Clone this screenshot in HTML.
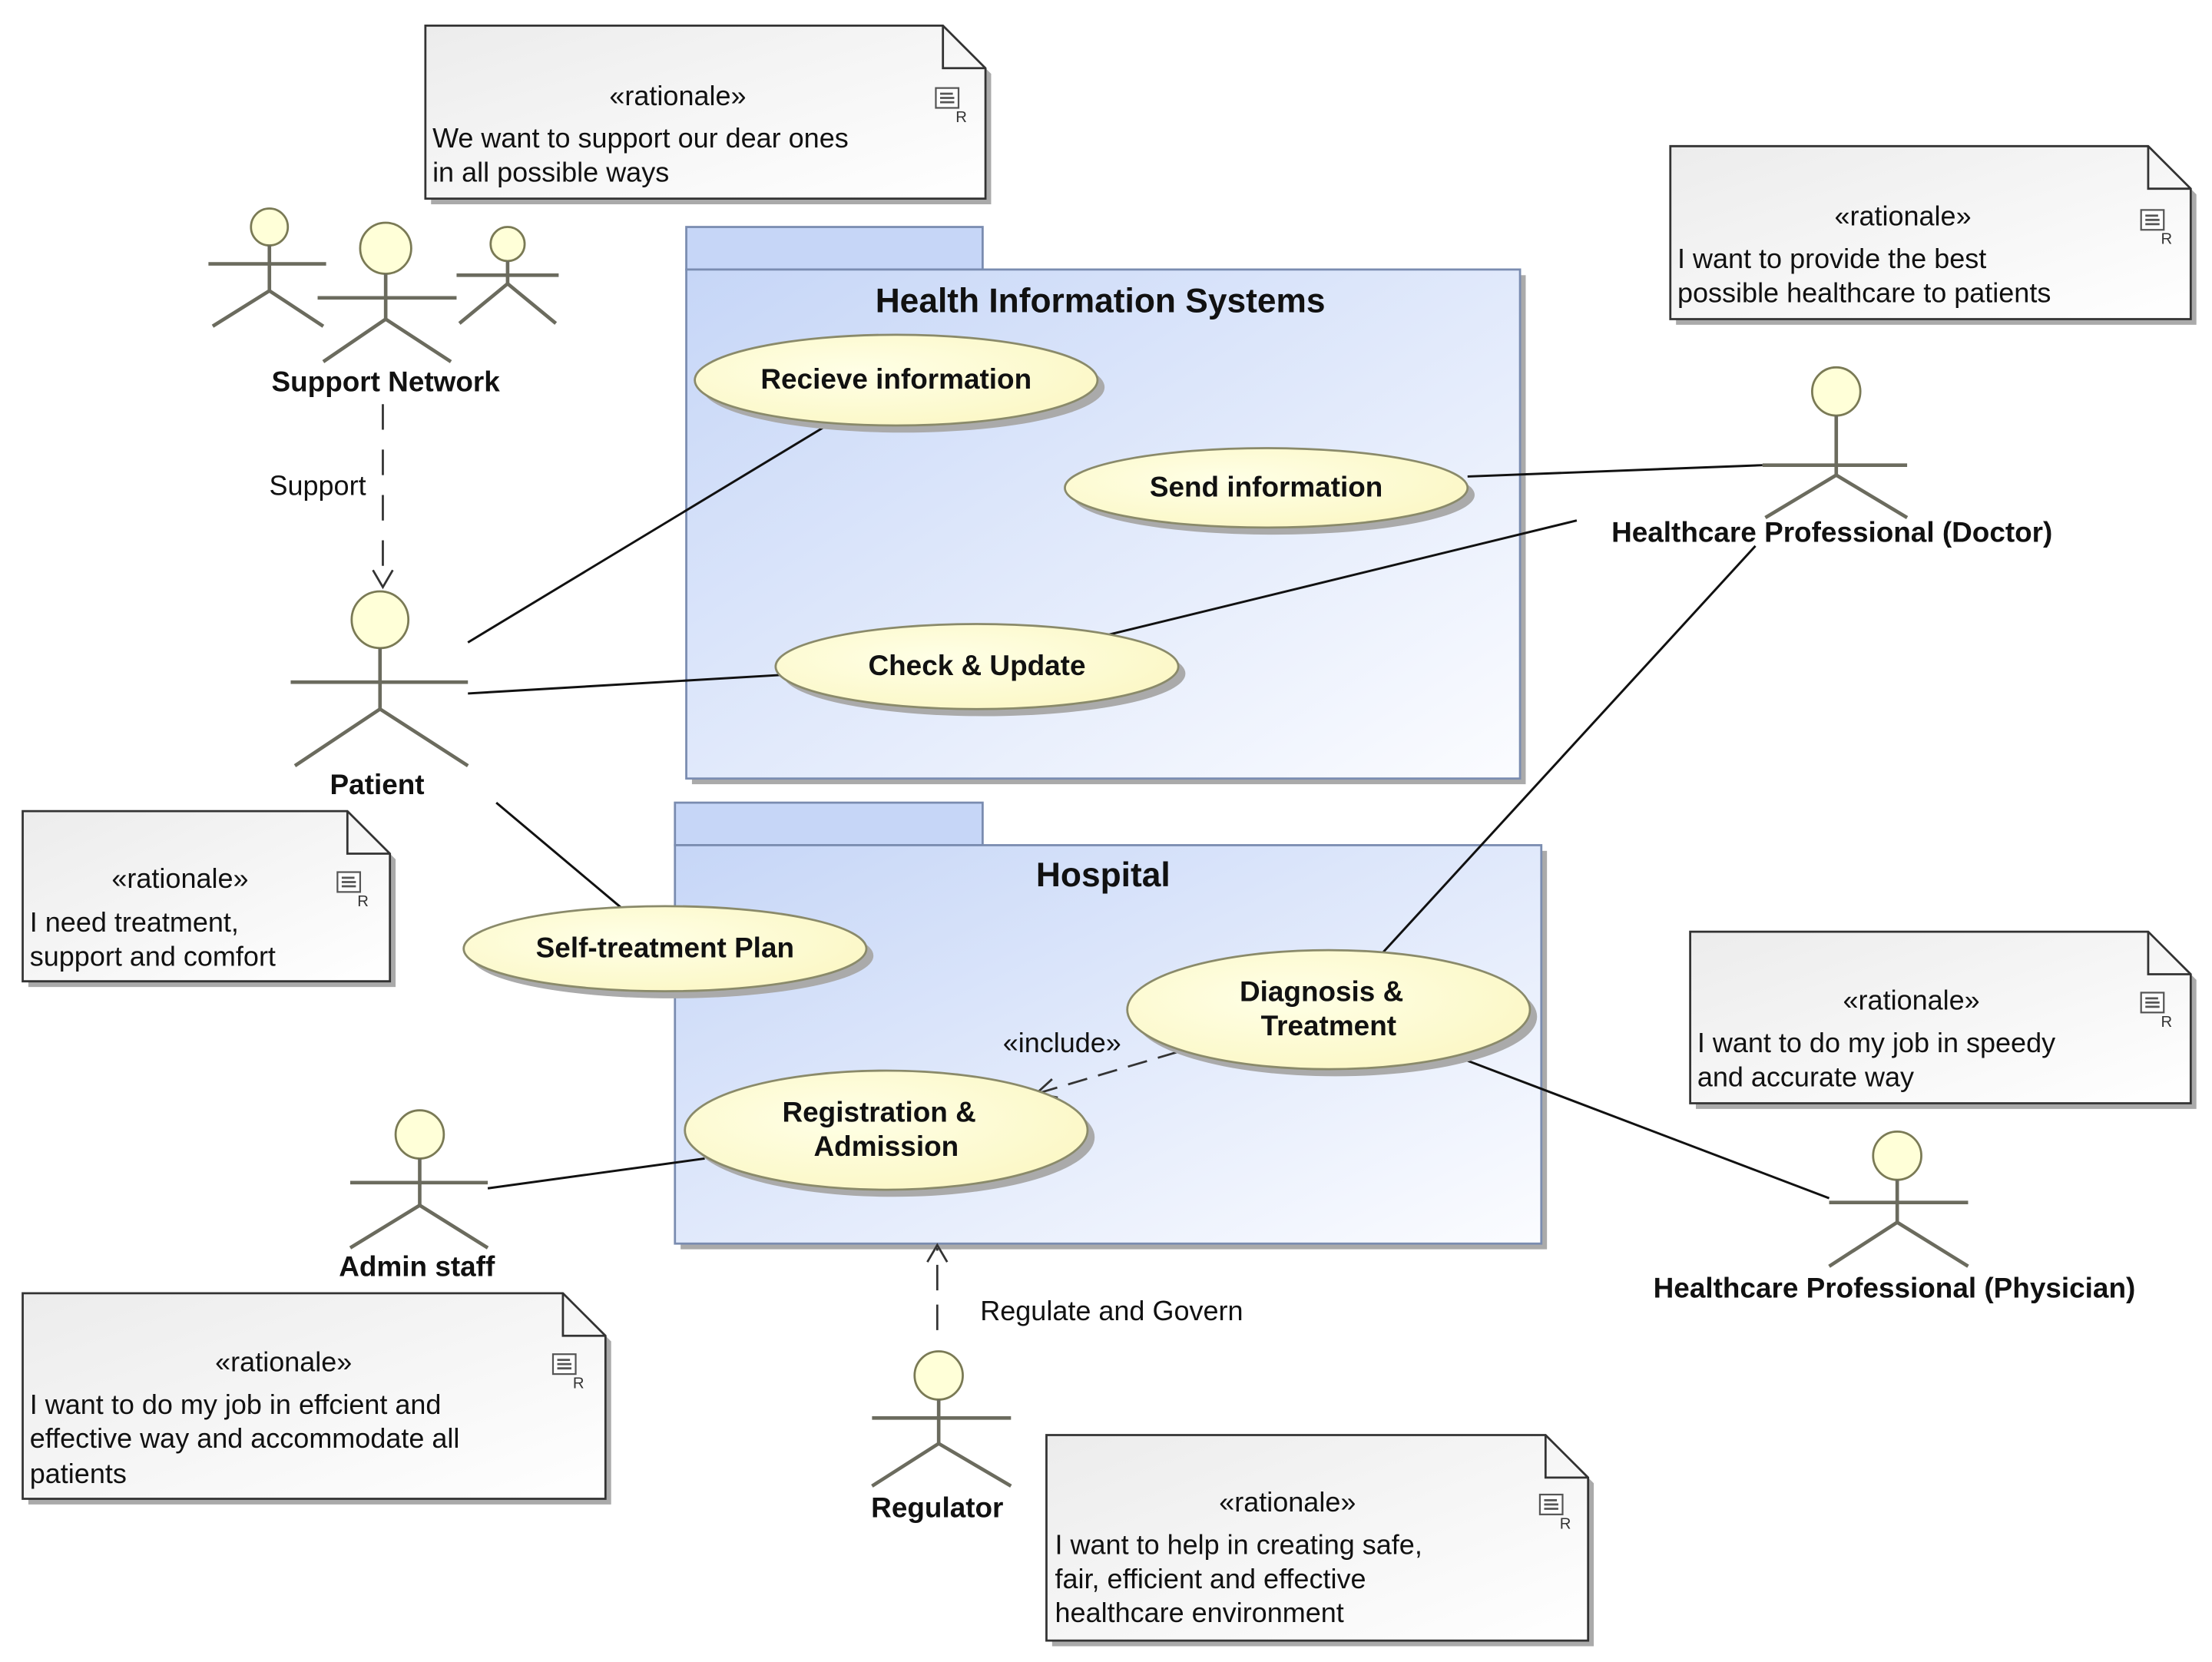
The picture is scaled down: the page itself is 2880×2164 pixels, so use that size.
<!DOCTYPE html>
<html><head><meta charset="utf-8"><style>html,body{margin:0;padding:0;background:#fff}svg{display:block}</style></head>
<body>
<svg width="2880" height="2164" viewBox="0 0 1560 1172" xmlns="http://www.w3.org/2000/svg" font-family="Liberation Sans, sans-serif">
<defs>
<linearGradient id="pk" x1="0" y1="0" x2="1" y2="1"><stop offset="0" stop-color="#c6d6f7"/><stop offset="1" stop-color="#fbfcff"/></linearGradient>
<linearGradient id="nt" x1="0" y1="0" x2="1" y2="1"><stop offset="0" stop-color="#ececec"/><stop offset="1" stop-color="#ffffff"/></linearGradient>
<radialGradient id="uc" cx="0.4" cy="0.4" r="0.7"><stop offset="0" stop-color="#ffffe6"/><stop offset="1" stop-color="#fbf7c4"/></radialGradient>
<g id="icon"><rect x="0" y="0" width="16" height="14" fill="#fff" stroke="#555" stroke-width="1.2"/><line x1="3" y1="4" x2="12" y2="4" stroke="#555" stroke-width="1.5"/><line x1="3" y1="7" x2="13" y2="7" stroke="#555" stroke-width="1.5"/><line x1="3" y1="10" x2="13" y2="10" stroke="#555" stroke-width="1.5"/><text x="14" y="24" font-size="11" fill="#333">R</text></g>
</defs>

<!-- Packages -->
<g stroke="#7a8cb0" stroke-width="1.5">
<rect x="488" y="194" width="588" height="359" fill="#aaa" stroke="none"/>
<rect x="484" y="160" width="209" height="30" fill="#c6d6f7"/>
<rect x="484" y="190" width="588" height="359" fill="url(#pk)"/>
<rect x="480" y="600" width="611" height="281" fill="#aaa" stroke="none"/>
<rect x="476" y="566" width="217" height="30" fill="#c6d6f7"/>
<rect x="476" y="596" width="611" height="281" fill="url(#pk)"/>
</g>
<text x="776" y="220" font-size="24" font-weight="bold" text-anchor="middle" fill="#111">Health Information Systems</text>
<text x="778" y="625" font-size="24" font-weight="bold" text-anchor="middle" fill="#111">Hospital</text>

<!-- Notes -->
<g stroke="#333" stroke-width="1.5">
<path d="M304,22 H669 L699,52 V144 H304 Z" fill="#aaa" stroke="none"/>
<path d="M300,18 H665 L695,48 V140 H300 Z" fill="url(#nt)"/><path d="M665,18 V48 H695" fill="none"/>
<path d="M1182,107 H1519 L1549,137 V229 H1182 Z" fill="#aaa" stroke="none"/>
<path d="M1178,103 H1515 L1545,133 V225 H1178 Z" fill="url(#nt)"/><path d="M1515,103 V133 H1545" fill="none"/>
<path d="M20,576 H249 L279,606 V696 H20 Z" fill="#aaa" stroke="none"/>
<path d="M16,572 H245 L275,602 V692 H16 Z" fill="url(#nt)"/><path d="M245,572 V602 H275" fill="none"/>
<path d="M1196,661 H1519 L1549,691 V782 H1196 Z" fill="#aaa" stroke="none"/>
<path d="M1192,657 H1515 L1545,687 V778 H1192 Z" fill="url(#nt)"/><path d="M1515,657 V687 H1545" fill="none"/>
<path d="M20,916 H401 L431,946 V1061 H20 Z" fill="#aaa" stroke="none"/>
<path d="M16,912 H397 L427,942 V1057 H16 Z" fill="url(#nt)"/><path d="M397,912 V942 H427" fill="none"/>
<path d="M742,1016 H1094 L1124,1046 V1161 H742 Z" fill="#aaa" stroke="none"/>
<path d="M738,1012 H1090 L1120,1042 V1157 H738 Z" fill="url(#nt)"/><path d="M1090,1012 V1042 H1120" fill="none"/>
</g>
<use href="#icon" x="660" y="62"/><use href="#icon" x="1510" y="148"/><use href="#icon" x="238" y="615"/>
<use href="#icon" x="1510" y="700"/><use href="#icon" x="390" y="955"/><use href="#icon" x="1086" y="1054"/>
<g font-size="19.5" fill="#111">
<text x="478" y="74" text-anchor="middle">«rationale»</text>
<text x="305" y="104">We want to support our dear ones</text><text x="305" y="128">in all possible ways</text>
<text x="1342" y="159" text-anchor="middle">«rationale»</text>
<text x="1183" y="189">I want to provide the best</text><text x="1183" y="213">possible healthcare to patients</text>
<text x="127" y="626" text-anchor="middle">«rationale»</text>
<text x="21" y="657">I need treatment,</text><text x="21" y="681">support and comfort</text>
<text x="1348" y="712" text-anchor="middle">«rationale»</text>
<text x="1197" y="742">I want to do my job in speedy</text><text x="1197" y="766">and accurate way</text>
<text x="200" y="967" text-anchor="middle">«rationale»</text>
<text x="21" y="997">I want to do my job in effcient and</text><text x="21" y="1021">effective way and accommodate all</text><text x="21" y="1046">patients</text>
<text x="908" y="1066" text-anchor="middle">«rationale»</text>
<text x="744" y="1096">I want to help in creating safe,</text><text x="744" y="1120">fair, efficient and effective</text><text x="744" y="1144">healthcare environment</text>
</g>

<!-- Connectors -->
<g stroke="#111" stroke-width="1.6" fill="none">
<line x1="330" y1="453" x2="583" y2="300"/>
<line x1="330" y1="489" x2="550" y2="476"/>
<line x1="350" y1="566" x2="438" y2="640"/>
<line x1="1035" y1="336" x2="1243" y2="328"/>
<line x1="780" y1="448" x2="1112" y2="367"/>
<line x1="975" y1="672" x2="1238" y2="385"/>
<line x1="1027" y1="745" x2="1290" y2="845"/>
<line x1="344" y1="838" x2="497" y2="817"/>
</g>
<g stroke="#333" stroke-width="1.5" fill="none">
<line x1="830" y1="742" x2="732" y2="771" stroke-dasharray="14,8"/>
<path d="M742,761 L731,771 L746,774"/>
<line x1="270" y1="285" x2="270" y2="413" stroke-dasharray="18,14"/>
<path d="M263,402 L270,414 L277,402"/>
<line x1="661" y1="938" x2="661" y2="880" stroke-dasharray="18,10"/>
<path d="M654,890 L661,878 L668,890"/>
</g>
<g font-size="19.5" fill="#111">
<text x="749" y="742" text-anchor="middle">«include»</text>
<text x="224" y="349" text-anchor="middle">Support</text>
<text x="784" y="931" text-anchor="middle">Regulate and Govern</text>
</g>

<!-- Use cases -->
<g stroke="#8a8a6a" stroke-width="1.5">
<ellipse cx="637" cy="273" rx="142" ry="32" fill="#aaa" stroke="none"/><ellipse cx="632" cy="268" rx="142" ry="32" fill="url(#uc)"/>
<ellipse cx="898" cy="349" rx="142" ry="28" fill="#aaa" stroke="none"/><ellipse cx="893" cy="344" rx="142" ry="28" fill="url(#uc)"/>
<ellipse cx="694" cy="475" rx="142" ry="30" fill="#aaa" stroke="none"/><ellipse cx="689" cy="470" rx="142" ry="30" fill="url(#uc)"/>
<ellipse cx="474" cy="674" rx="142" ry="30" fill="#aaa" stroke="none"/><ellipse cx="469" cy="669" rx="142" ry="30" fill="url(#uc)"/>
<ellipse cx="942" cy="717" rx="142" ry="42" fill="#aaa" stroke="none"/><ellipse cx="937" cy="712" rx="142" ry="42" fill="url(#uc)"/>
<ellipse cx="630" cy="802" rx="142" ry="42" fill="#aaa" stroke="none"/><ellipse cx="625" cy="797" rx="142" ry="42" fill="url(#uc)"/>
</g>
<g font-size="20" font-weight="bold" fill="#111" text-anchor="middle">
<text x="632" y="274">Recieve information</text>
<text x="893" y="350">Send information</text>
<text x="689" y="476">Check &amp; Update</text>
<text x="469" y="675">Self-treatment Plan</text>
<text x="932" y="706">Diagnosis &amp;</text><text x="937" y="730">Treatment</text>
<text x="620" y="791">Registration &amp;</text><text x="625" y="815">Admission</text>
</g>

<!-- Actors -->
<g id="actors" stroke="#6b6b5e" stroke-width="2.5" fill="none">
<!-- support network -->
<g><circle cx="190" cy="160" r="13" fill="#ffffd8" stroke="#7a7a55" stroke-width="1.5"/><line x1="190" y1="173" x2="190" y2="205"/><line x1="147" y1="186" x2="230" y2="186"/><path d="M150,230 L190,205 L228,230"/></g>
<g><circle cx="272" cy="175" r="18" fill="#ffffd8" stroke="#7a7a55" stroke-width="1.5"/><line x1="272" y1="193" x2="272" y2="225"/><line x1="224" y1="210" x2="322" y2="210"/><path d="M228,255 L272,225 L318,255"/></g>
<g><circle cx="358" cy="172" r="12" fill="#ffffd8" stroke="#7a7a55" stroke-width="1.5"/><line x1="358" y1="184" x2="358" y2="200"/><line x1="322" y1="194" x2="394" y2="194"/><path d="M324,228 L358,200 L392,228"/></g>
<!-- patient -->
<g><circle cx="268" cy="437" r="20" fill="#ffffd8" stroke="#7a7a55" stroke-width="1.5"/><line x1="268" y1="457" x2="268" y2="500"/><line x1="205" y1="481" x2="330" y2="481"/><path d="M208,540 L268,500 L330,540"/></g>
<!-- doctor -->
<g><circle cx="1295" cy="276" r="17" fill="#ffffd8" stroke="#7a7a55" stroke-width="1.5"/><line x1="1295" y1="293" x2="1295" y2="335"/><line x1="1243" y1="328" x2="1345" y2="328"/><path d="M1245,365 L1295,335 L1345,365"/></g>
<!-- physician -->
<g><circle cx="1338" cy="815" r="17" fill="#ffffd8" stroke="#7a7a55" stroke-width="1.5"/><line x1="1338" y1="832" x2="1338" y2="862"/><line x1="1290" y1="848" x2="1388" y2="848"/><path d="M1290,893 L1338,862 L1388,893"/></g>
<!-- admin -->
<g><circle cx="296" cy="800" r="17" fill="#ffffd8" stroke="#7a7a55" stroke-width="1.5"/><line x1="296" y1="817" x2="296" y2="850"/><line x1="247" y1="834" x2="344" y2="834"/><path d="M247,880 L296,850 L344,880"/></g>
<!-- regulator -->
<g><circle cx="662" cy="970" r="17" fill="#ffffd8" stroke="#7a7a55" stroke-width="1.5"/><line x1="662" y1="987" x2="662" y2="1018"/><line x1="615" y1="1000" x2="713" y2="1000"/><path d="M615,1048 L662,1018 L713,1048"/></g>
</g>
<g font-size="20" font-weight="bold" fill="#111" text-anchor="middle">
<text x="272" y="276">Support Network</text>
<text x="266" y="560">Patient</text>
<text x="1292" y="382">Healthcare Professional (Doctor)</text>
<text x="1336" y="915">Healthcare Professional (Physician)</text>
<text x="294" y="900">Admin staff</text>
<text x="661" y="1070">Regulator</text>
</g>
</svg>
</body></html>
